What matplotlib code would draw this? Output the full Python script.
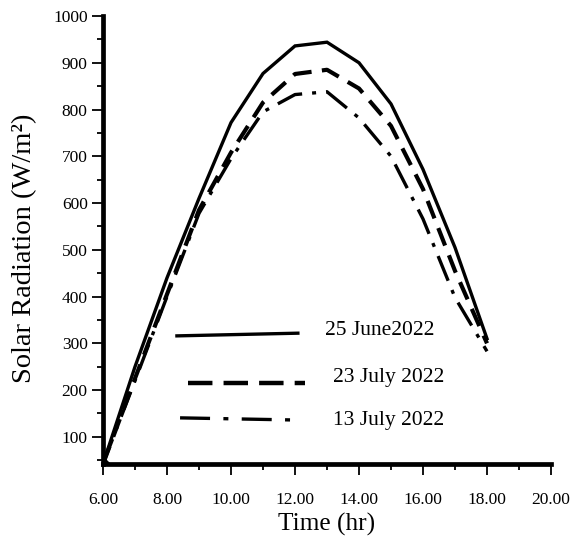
import matplotlib
matplotlib.use("Agg")
import matplotlib.pyplot as plt
from matplotlib.ticker import MultipleLocator, FuncFormatter

hours = [6, 7, 8, 9, 10, 11, 12, 13, 14, 15, 16, 17, 18]
june25 = [42, 250, 440, 610, 772, 877, 936, 944, 900, 812, 672, 505, 310]
july23 = [42, 225, 405, 585, 708, 815, 876, 885, 845, 765, 630, 455, 300]
july13 = [42, 220, 400, 578, 695, 795, 832, 838, 782, 700, 566, 398, 283]
labels = ["25 June2022", "23 July 2022", "13 July 2022"]
x_ticks = [6, 8, 10, 12, 14, 16, 18, 20]
y_ticks = [100, 200, 300, 400, 500, 600, 700, 800, 900, 1000]

plt.rcParams['font.family'] = ['Liberation Serif', 'DejaVu Serif']

fig = plt.figure(figsize=(5.74, 5.38), dpi=100)
ax = fig.add_axes([103/574, (538-464)/538, 448/574, 448/538])

lw = 2.4
ax.plot(hours, june25, color='black', lw=lw, solid_joinstyle='miter',
        marker='D', markersize=7, markevery=[0], zorder=3)
ax.plot(hours, july23, color='black', lw=lw + 0.6, dashes=(4.5, 2.5), zorder=3)
ax.plot(hours, july13, color='black', lw=lw, dashes=(8, 3, 1.2, 3), zorder=3)

ax.set_xlim(6, 20)
ax.set_ylim(42, 1000)

for s in ['top', 'right']:
    ax.spines[s].set_visible(False)
for s in ['left', 'bottom']:
    ax.spines[s].set_linewidth(3.4)

ax.set_xticks(x_ticks)
ax.set_yticks(y_ticks)
ax.xaxis.set_minor_locator(MultipleLocator(1))
ax.yaxis.set_minor_locator(MultipleLocator(50))
ax.xaxis.set_major_formatter(FuncFormatter(lambda v, p: f"{v:.2f}"))
ax.yaxis.set_major_formatter(FuncFormatter(lambda v, p: f"{int(v)}"))
ax.tick_params(axis='both', which='major', direction='out', length=8, width=1.3,
               labelsize=12.5, color='black')
ax.tick_params(axis='both', which='minor', direction='out', length=4, width=1.3)
ax.tick_params(axis='x', which='major', pad=12)
ax.tick_params(axis='y', which='major', pad=3)

ax.set_xlabel("Time (hr)", fontsize=18.3)
ax.xaxis.set_label_coords(0.5, (464 - 536) / 448)
ax.xaxis.label.set_va('bottom')
ax.set_ylabel("Solar Radiation (W/m²)", fontsize=20.5)
ax.yaxis.set_label_coords((37 - 103) / 448, (464 - 248) / 448)

# manual legend
tr = ax.transAxes
ax.plot([0.165, 0.435], [0.286, 0.292], color='black', lw=lw, transform=tr)
ax.plot([0.190, 0.451], [0.181, 0.181], color='black', lw=lw + 0.8,
        dashes=(5.5, 2.5), transform=tr)
ax.plot([0.172, 0.440], [0.103, 0.098], color='black', lw=lw,
        dashes=(9, 4, 1.5, 4), transform=tr)
ax.text(0.496, 0.299, labels[0], transform=tr, fontsize=15.5, va='center', ha='left')
ax.text(0.513, 0.192, labels[1], transform=tr, fontsize=15.5, va='center', ha='left')
ax.text(0.513, 0.096, labels[2], transform=tr, fontsize=15.5, va='center', ha='left')

fig.savefig("out.png", dpi=100)
